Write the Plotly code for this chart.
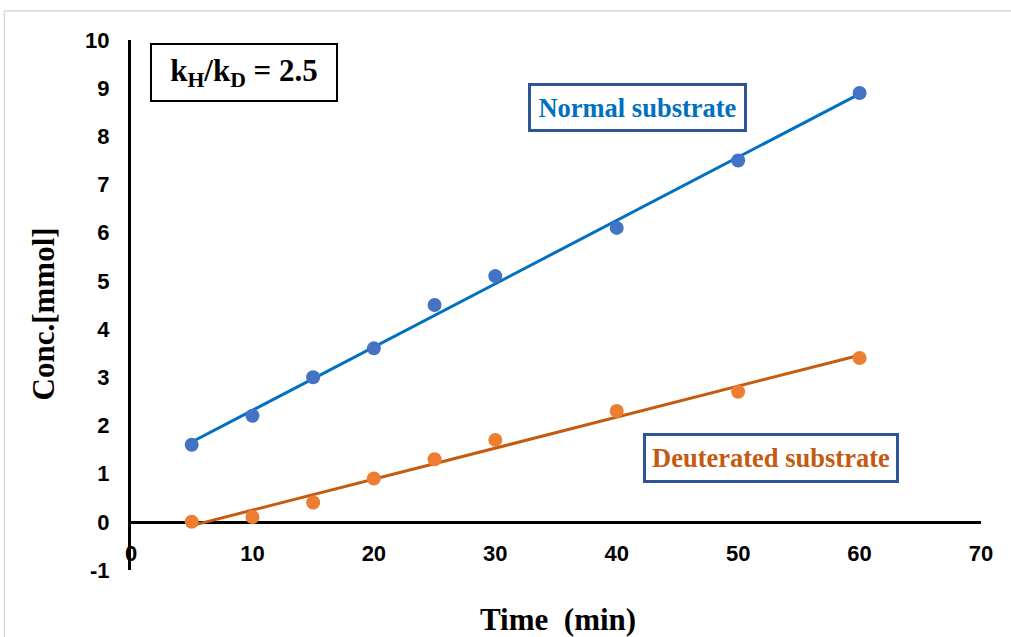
import numpy as np
import plotly.graph_objects as go

# Data
time_min = [5, 10, 15, 20, 25, 30, 40, 50, 60]
normal_conc = [1.6, 2.2, 3.0, 3.6, 4.5, 5.1, 6.1, 7.5, 8.9]
deuterated_conc = [0.0, 0.1, 0.4, 0.9, 1.3, 1.7, 2.3, 2.7, 3.4]
x_ticks = [0, 10, 20, 30, 40, 50, 60, 70]
y_ticks = list(range(-1, 11))

serif = "Liberation Serif, Times New Roman, serif"
sans = "Liberation Sans, Arial, sans-serif"

NORMAL_MARK = "#4472C4"
NORMAL_LINE = "#0070C0"
DEUT_MARK = "#ED7D31"
DEUT_LINE = "#C55A11"
BOX_BLUE = "#2F5597"

fig = go.Figure()

# linear trend lines (least squares fit from the data)
xs = np.array(time_min, dtype=float)
xfit = np.array([xs.min(), xs.max()])
for ys, col in [(normal_conc, NORMAL_LINE), (deuterated_conc, DEUT_LINE)]:
    m, b = np.polyfit(xs, np.array(ys, dtype=float), 1)
    fig.add_trace(go.Scatter(x=xfit, y=m * xfit + b, mode="lines",
                             line=dict(color=col, width=3),
                             showlegend=False, hoverinfo="skip"))

fig.add_trace(go.Scatter(x=time_min, y=normal_conc, mode="markers",
                         marker=dict(color=NORMAL_MARK, size=14),
                         name="Normal substrate", showlegend=False))
fig.add_trace(go.Scatter(x=time_min, y=deuterated_conc, mode="markers",
                         marker=dict(color=DEUT_MARK, size=14),
                         name="Deuterated substrate", showlegend=False))

fig.update_layout(
    width=1011, height=637,
    paper_bgcolor="white", plot_bgcolor="white",
    margin=dict(l=131, r=30, t=40, b=67),
    showlegend=False,
    xaxis=dict(
        range=[0, 70], tickvals=x_ticks, ticktext=[str(v) for v in x_ticks],
        showgrid=False, zeroline=False,
        showline=True, linecolor="black", linewidth=3,
        anchor="free", position=1 / 11,
        ticks="", ticklabelstandoff=11,
        tickfont=dict(family=sans, size=22, color="black", weight="bold"),
        layer="below traces",
    ),
    yaxis=dict(
        range=[-1, 10], tickvals=y_ticks, ticktext=[str(v) for v in y_ticks],
        showgrid=False, zeroline=False,
        showline=True, linecolor="black", linewidth=3,
        ticks="", ticklabelstandoff=14,
        tickfont=dict(family=sans, size=22, color="black", weight="bold"),
        layer="below traces",
    ),
)

# light grey frame of the chart area
fig.add_shape(type="line", xref="paper", yref="paper",
              x0=-0.149, x1=1.2, y0=1.055, y1=1.055,
              line=dict(color="#D9D9D9", width=1.5))
fig.add_shape(type="line", xref="paper", yref="paper",
              x0=-0.149, x1=-0.149, y0=1.055, y1=-0.3,
              line=dict(color="#D9D9D9", width=1.5))

# axis titles
fig.add_annotation(text="Time \u00a0(min)", xref="paper", yref="paper",
                   x=0.502, y=-0.094, xanchor="center", yanchor="middle",
                   showarrow=False,
                   font=dict(family=serif, size=31, color="black", weight="bold"))
fig.add_annotation(text="Conc.[mmol]", xref="paper", yref="paper",
                   x=-0.103, y=0.483, xanchor="center", yanchor="middle",
                   textangle=-90, showarrow=False,
                   font=dict(family=serif, size=31, color="black", weight="bold"))

# text boxes
fig.add_annotation(text="k<sub>H</sub>/k<sub>D</sub> = 2.5",
                   x=9.27, y=9.33, xref="x", yref="y", showarrow=False,
                   width=184, height=55, borderpad=0,
                   bordercolor="black", borderwidth=2, bgcolor="white",
                   font=dict(family=serif, size=31, color="black", weight="bold"))
fig.add_annotation(text="Normal substrate",
                   x=41.68, y=8.6, xref="x", yref="y", showarrow=False,
                   width=213, height=43, borderpad=0,
                   bordercolor=BOX_BLUE, borderwidth=3, bgcolor="white",
                   font=dict(family=serif, size=26.5, color=NORMAL_LINE, weight="bold"))
fig.add_annotation(text="Deuterated substrate",
                   x=52.7, y=1.33, xref="x", yref="y", showarrow=False,
                   width=250, height=44, borderpad=0,
                   bordercolor=BOX_BLUE, borderwidth=3, bgcolor="white",
                   font=dict(family=serif, size=26.5, color=DEUT_LINE, weight="bold"))

fig.write_html("out.html", config={"responsive": False, "displayModeBar": False},
               post_script="document.body.style.margin='0';document.body.style.overflow='hidden';")
